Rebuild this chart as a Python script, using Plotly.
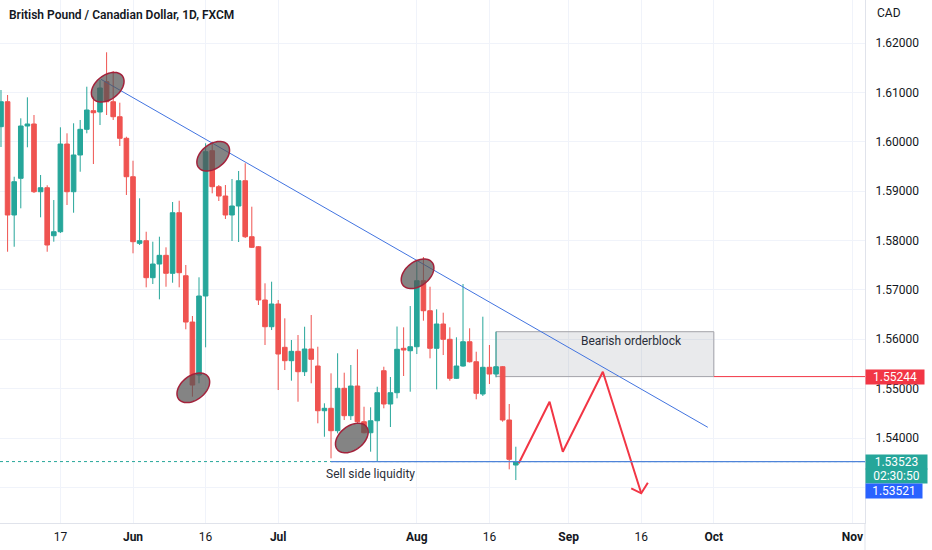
import numpy as np
import pandas as pd
import plotly.graph_objects as go

# ---------------- data (GBP/CAD daily, FXCM) ----------------
dates = [
    "2022-05-04", "2022-05-05", "2022-05-06", "2022-05-09", "2022-05-10", "2022-05-11", "2022-05-12",
    "2022-05-13", "2022-05-16", "2022-05-17", "2022-05-18", "2022-05-19", "2022-05-20", "2022-05-23",
    "2022-05-24", "2022-05-25", "2022-05-26", "2022-05-27", "2022-05-30", "2022-05-31",
    "2022-06-01", "2022-06-02", "2022-06-03", "2022-06-06", "2022-06-07", "2022-06-08", "2022-06-09",
    "2022-06-10", "2022-06-13", "2022-06-14", "2022-06-15", "2022-06-16", "2022-06-17", "2022-06-20",
    "2022-06-21", "2022-06-22", "2022-06-23", "2022-06-24", "2022-06-27", "2022-06-28", "2022-06-29",
    "2022-06-30", "2022-07-01", "2022-07-04", "2022-07-05", "2022-07-06", "2022-07-07", "2022-07-08",
    "2022-07-11", "2022-07-12", "2022-07-13", "2022-07-14", "2022-07-15", "2022-07-18", "2022-07-19",
    "2022-07-20", "2022-07-21", "2022-07-22", "2022-07-25", "2022-07-26", "2022-07-27", "2022-07-28",
    "2022-07-29", "2022-08-01", "2022-08-02", "2022-08-03", "2022-08-04", "2022-08-05", "2022-08-08",
    "2022-08-09", "2022-08-10", "2022-08-11", "2022-08-12", "2022-08-15", "2022-08-16", "2022-08-17",
    "2022-08-18", "2022-08-19", "2022-08-22",
]
open_ = [
    1.60305, 1.60811, 1.58517, 1.59260, 1.60319, 1.60360, 1.58988, 1.59069, 1.58097, 1.58178,
    1.59954, 1.58988, 1.59732, 1.60252, 1.60629, 1.60603, 1.61216, 1.60811, 1.60507, 1.60070,
    1.59292, 1.57943, 1.57996, 1.57247, 1.57524, 1.57700, 1.57336, 1.58563, 1.57287, 1.56349,
    1.55276, 1.56876, 1.59819, 1.59090, 1.58901, 1.58517, 1.58699, 1.59211, 1.58077, 1.57874,
    1.56795, 1.56254, 1.56714, 1.55837, 1.55566, 1.55756, 1.55343, 1.55803, 1.55458, 1.54553,
    1.54602, 1.54148, 1.55007, 1.54452, 1.55053, 1.54330, 1.54107, 1.54350, 1.55363, 1.54689,
    1.54918, 1.55817, 1.55768, 1.55849, 1.57186, 1.56578, 1.55817, 1.56309, 1.55999, 1.55209,
    1.55458, 1.55950, 1.55545, 1.54891, 1.55432, 1.55296, 1.55444, 1.54365, 1.53453,
]
high = [
    1.61048, 1.60947, 1.59292, 1.60475, 1.60900, 1.60542, 1.59327, 1.59118, 1.58820, 1.60293,
    1.60171, 1.60374, 1.60441, 1.61115, 1.60912, 1.61251, 1.61812, 1.61433, 1.60791, 1.60102,
    1.59616, 1.58855, 1.58178, 1.57976, 1.58077, 1.57862, 1.58780, 1.58806, 1.57504, 1.56471,
    1.57255, 1.59969, 1.60001, 1.59124, 1.59124, 1.59246, 1.59408, 1.59564, 1.58685, 1.57889,
    1.57133, 1.57166, 1.56795, 1.56424, 1.55985, 1.56086, 1.56254, 1.56491, 1.55849, 1.54703,
    1.55310, 1.55716, 1.55323, 1.55479, 1.55797, 1.54634, 1.54622, 1.55039, 1.55444, 1.55236,
    1.56258, 1.56242, 1.56673, 1.57605, 1.57666, 1.57064, 1.56607, 1.56538, 1.56242, 1.56040,
    1.57119, 1.56222, 1.55748, 1.56457, 1.55884, 1.56153, 1.55458, 1.54689, 1.53824,
]
low = [
    1.59894, 1.57773, 1.57874, 1.58652, 1.59888, 1.58962, 1.58470, 1.57773, 1.57976, 1.58152,
    1.58719, 1.58563, 1.59393, 1.60171, 1.59549, 1.60339, 1.60542, 1.60441, 1.59914, 1.58922,
    1.57741, 1.57909, 1.57052, 1.57119, 1.56809, 1.57064, 1.57145, 1.57052, 1.56202, 1.54837,
    1.55108, 1.55837, 1.58956, 1.58800, 1.58436, 1.57990, 1.57970, 1.58051, 1.57848, 1.56694,
    1.55884, 1.56187, 1.54972, 1.55377, 1.55161, 1.54735, 1.55256, 1.55108, 1.54298, 1.54026,
    1.53589, 1.54095, 1.54365, 1.54365, 1.54298, 1.54095, 1.53723, 1.53520, 1.54602, 1.54223,
    1.54804, 1.55256, 1.54938, 1.55701, 1.56376, 1.55614, 1.54986, 1.55681, 1.55161, 1.55195,
    1.55444, 1.55529, 1.54784, 1.54851, 1.55094, 1.55229, 1.54330, 1.53366, 1.53149,
]
close = [
    1.60811, 1.58517, 1.59191, 1.60319, 1.60360, 1.58988, 1.59069, 1.57909, 1.58178, 1.59954,
    1.58988, 1.59732, 1.60252, 1.60643, 1.60588, 1.61089, 1.60811, 1.60507, 1.60070, 1.59292,
    1.57976, 1.57996, 1.57247, 1.57524, 1.57700, 1.57336, 1.58563, 1.57348, 1.56349, 1.55073,
    1.56876, 1.59799, 1.59090, 1.58901, 1.58517, 1.58699, 1.59211, 1.58077, 1.57862, 1.56795,
    1.56254, 1.56714, 1.55701, 1.55566, 1.55756, 1.55343, 1.55803, 1.55594, 1.54553, 1.54602,
    1.54148, 1.55007, 1.54452, 1.55053, 1.54330, 1.54107, 1.54350, 1.54918, 1.54689, 1.54918,
    1.55797, 1.55782, 1.55849, 1.57186, 1.56578, 1.55817, 1.56309, 1.55999, 1.55209, 1.55458,
    1.55950, 1.55545, 1.54905, 1.55432, 1.55296, 1.55444, 1.54365, 1.53569, 1.53523,
]

# axis ticks
x_tick_dates = ["2022-05-17", "2022-06-01", "2022-06-16", "2022-07-01", "2022-08-01",
                "2022-08-16", "2022-09-01", "2022-09-16", "2022-10-03", "2022-11-01"]
x_tick_labels = ["17", "<b>Jun</b>", "16", "<b>Jul</b>", "<b>Aug</b>",
                 "16", "<b>Sep</b>", "16", "<b>Oct</b>", "<b>Nov</b>"]
y_tick_values = [1.53, 1.54, 1.55, 1.56, 1.57, 1.58, 1.59, 1.60, 1.61, 1.62]
y_tick_labels = ["", "1.54000", "1.55000", "1.56000", "1.57000", "1.58000",
                 "1.59000", "1.60000", "1.61000", "1.62000"]

# drawings / levels
last_price = 1.53523
bid_price = 1.53521
countdown = "02:30:50"
ob_level = 1.55244
ob_top = 1.56153
ob_start, ob_end = "2022-08-17 12:00", "2022-10-03 12:00"
liq_start = "2022-07-13 12:00"
trend_x = ["2022-05-25 15:36", "2022-09-30 14:00"]
trend_y = [1.61265, 1.54217]
zigzag_x = ["2022-08-22 22:48", "2022-08-29 14:40", "2022-08-31 14:50", "2022-09-08 16:20", "2022-09-16 12:00"]
zigzag_y = [1.53490, 1.54735, 1.53723, 1.55343, 1.52880]
ellipse_x = ["2022-05-26 16:00", "2022-06-17 15:36", "2022-08-01 14:40", "2022-06-14 15:20", "2022-07-18 15:36"]
ellipse_y = [1.61105, 1.59707, 1.57326, 1.55017, 1.54000]

x_range = ["2022-05-04 08:24", "2022-11-03 09:36"]
y_range = [1.52279, 1.62871]

UP, DOWN = "#26a69a", "#ef5350"
TXT = "#131722"
GRID = "#f0f3fa"
FONT = "Roboto, 'Liberation Sans', sans-serif"

# bars centred at noon so that Monday/Friday bodies are not cut by weekend breaks
bar_x = pd.to_datetime(dates) + pd.Timedelta(hours=12)
tick_x = pd.to_datetime(x_tick_dates) + pd.Timedelta(hours=12)

fig = go.Figure()
fig.add_trace(go.Candlestick(
    x=bar_x, open=open_, high=high, low=low, close=close,
    increasing=dict(line=dict(color=UP, width=1), fillcolor=UP),
    decreasing=dict(line=dict(color=DOWN, width=1), fillcolor=DOWN),
    whiskerwidth=0, hoverinfo="skip", showlegend=False,
))
fig.add_trace(go.Scatter(
    x=zigzag_x, y=zigzag_y, mode="lines",
    line=dict(color="#f23645", width=2), hoverinfo="skip", showlegend=False,
))


def ellipse_path(a, b, theta_deg, n=60):
    th = np.radians(theta_deg)
    t = np.linspace(0, 2 * np.pi, n, endpoint=False)
    dx = a * np.cos(t) * np.cos(th) - b * np.sin(t) * np.sin(th)
    dy = a * np.cos(t) * np.sin(th) + b * np.sin(t) * np.cos(th)
    pts = [f"{u:.2f},{v:.2f}" for u, v in zip(dx, dy)]
    return "M" + " L".join(pts) + " Z"


shapes = []
# order block
shapes.append(dict(type="rect", xref="x", yref="y", x0=ob_start, x1=ob_end, y0=ob_level, y1=ob_top,
                   fillcolor="rgba(120,123,134,0.16)", line=dict(color="#a3a3a8", width=1), layer="between"))
# red level to the right of the block
shapes.append(dict(type="line", xref="x", yref="y", x0=ob_end, x1=x_range[1], y0=ob_level, y1=ob_level,
                   line=dict(color="#f23645", width=1)))
# current price dotted line
shapes.append(dict(type="line", xref="x", yref="y", x0=x_range[0], x1=x_range[1], y0=last_price, y1=last_price,
                   line=dict(color=UP, width=1, dash="dot"), layer="between"))
# sell side liquidity line
shapes.append(dict(type="line", xref="x", yref="y", x0=liq_start, x1=x_range[1], y0=last_price, y1=last_price,
                   line=dict(color="#4f84d9", width=1.3)))
# trend line
shapes.append(dict(type="line", xref="x", yref="y", x0=trend_x[0], x1=trend_x[1], y0=trend_y[0], y1=trend_y[1],
                   line=dict(color="#4274e0", width=1)))
# ellipses
epath = ellipse_path(18.5, 12, 38)
for ex, ey in zip(ellipse_x, ellipse_y):
    shapes.append(dict(type="path", xref="x", yref="y", xsizemode="pixel", ysizemode="pixel",
                       xanchor=ex, yanchor=ey, path=epath,
                       fillcolor="rgba(85,85,85,0.72)", line=dict(color="#a3223b", width=1.5)))
# arrow head of the projected path
shapes.append(dict(type="path", xref="x", yref="y", xsizemode="pixel", ysizemode="pixel",
                   xanchor=zigzag_x[-1], yanchor=zigzag_y[-1], path="M-10,5 L0,0 L6.6,10.6",
                   line=dict(color="#f23645", width=2)))
# price scale separator running through the time scale
shapes.append(dict(type="line", xref="paper", yref="paper", x0=1, x1=1, y0=-0.06, y1=0,
                   line=dict(color="#e0e3eb", width=1)))

lab_font = dict(family=FONT, size=12, color="white")
annotations = [
    dict(xref="paper", yref="paper", x=0, y=1, xshift=7, yshift=-15, xanchor="left", yanchor="middle",
         text="British Pound / Canadian Dollar, 1D, FXCM", showarrow=False,
         font=dict(family=FONT, size=12, color=TXT, weight=600)),
    dict(xref="paper", yref="paper", x=1, y=1, xshift=10, yshift=-13, xanchor="left", yanchor="middle",
         text="CAD", showarrow=False, font=dict(family=FONT, size=12, color=TXT)),
    dict(xref="x", yref="y", x="2022-09-15 00:00", y=1.55965, text="Bearish orderblock", showarrow=False,
         font=dict(family=FONT, size=12, color="#2a2e39")),
    dict(xref="x", yref="y", x="2022-07-21 10:00", y=1.53271, text="Sell side liquidity", showarrow=False,
         font=dict(family=FONT, size=12, color="#2a2e39")),
    # price scale labels
    dict(xref="paper", yref="y", x=1, y=ob_level, xanchor="left", yanchor="middle",
         text=f"{ob_level:.5f}", showarrow=False, bgcolor="#f23645", borderpad=0, width=58,
         font=lab_font),
    dict(xref="paper", yref="y", x=1, y=last_price, yshift=8, xanchor="left", yanchor="top",
         text=f"{last_price:.5f}", showarrow=False, bgcolor=UP, borderpad=0, width=61,
         font=lab_font),
    dict(xref="paper", yref="y", x=1, y=last_price, yshift=-6, xanchor="left", yanchor="top",
         text=countdown, showarrow=False, bgcolor=UP, borderpad=0, width=61,
         font=lab_font),
    dict(xref="paper", yref="y", x=1, y=last_price, yshift=-21, xanchor="left", yanchor="top",
         text=f"{bid_price:.5f}", showarrow=False, bgcolor="#2962ff", borderpad=0, width=56,
         font=lab_font),
]

fig.update_layout(
    width=932, height=550,
    margin=dict(l=0, r=67, t=0, b=27),
    paper_bgcolor="white", plot_bgcolor="white",
    font=dict(family=FONT, size=12, color=TXT),
    showlegend=False, boxgap=0.3, boxgroupgap=0,
    shapes=shapes, annotations=annotations,
    xaxis=dict(
        type="date", range=x_range, rangebreaks=[dict(bounds=["sat", "mon"])],
        tickmode="array", tickvals=tick_x, ticktext=x_tick_labels,
        showgrid=True, gridcolor=GRID, gridwidth=1, zeroline=False,
        showline=True, linecolor="#e0e3eb", linewidth=1, ticks="",
        ticklabelstandoff=3, tickfont=dict(family=FONT, size=12, color=TXT),
        rangeslider=dict(visible=False),
    ),
    yaxis=dict(
        side="right", range=y_range, tickmode="array", tickvals=y_tick_values, ticktext=y_tick_labels,
        showgrid=True, gridcolor=GRID, gridwidth=1, zeroline=False,
        showline=True, linecolor="#e0e3eb", linewidth=1, ticks="",
        ticklabelstandoff=7, tickfont=dict(family=FONT, size=12, color=TXT),
    ),
)

fig.write_html("out.html", config={"displayModeBar": False},
               post_script="document.body.style.margin='0px';")
